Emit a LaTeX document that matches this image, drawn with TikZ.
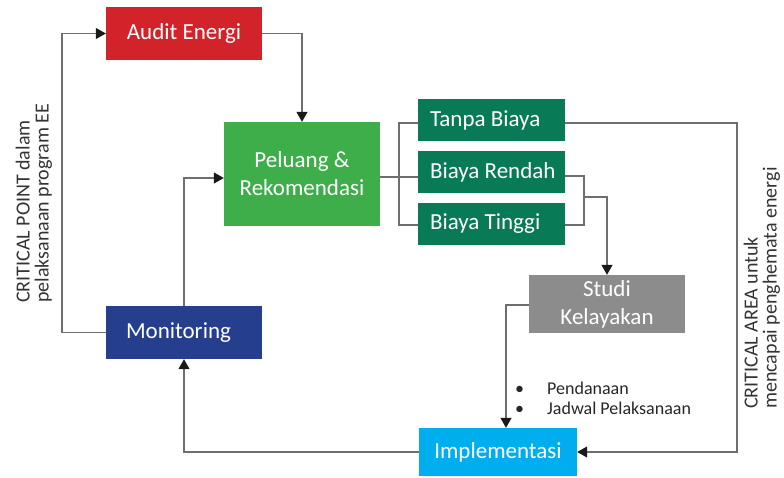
\documentclass[tikz,border=0pt]{standalone}
\usepackage{fontspec}
\setmainfont{Carlito}
\usetikzlibrary{arrows.meta}
\definecolor{cred}{HTML}{D2232A}
\definecolor{cgreen}{HTML}{3DAE49}
\definecolor{cdgreen}{HTML}{087A56}
\definecolor{cgray}{HTML}{8C8C8C}
\definecolor{cblue}{HTML}{253F8E}
\definecolor{ccyan}{HTML}{00AEEF}
\definecolor{cline}{HTML}{6E6E6E}
\tikzset{
  box/.style={rectangle, inner sep=0pt, text=white, font=\fontsize{23}{28}\selectfont, align=center},
  conn/.style={draw=cline, line width=1.1pt},
  arr/.style={conn, -{Triangle[width=11pt,length=10pt,color=black!90]}},
  side/.style={font=\fontsize{20}{19}\selectfont, text=black!80, align=left, rotate=90, anchor=west, inner sep=0pt},
}
\begin{document}
\begin{tikzpicture}[x=1pt,y=-1pt]
\useasboundingbox (0,0) rectangle (784,477);
\node[box, fill=cred, minimum width=156, minimum height=53] (aud) at (184,33.5) {Audit Energi};
\node[box, fill=cgreen, minimum width=156, minimum height=104] (pel) at (302,174) {Peluang \&\\Rekomendasi};
\node[box, fill=cdgreen, minimum width=147, minimum height=42, inner xsep=12] (tan) at (491.5,120) {\makebox[123pt][l]{Tanpa Biaya}};
\node[box, fill=cdgreen, minimum width=147, minimum height=42, inner xsep=12] (ren) at (491.5,172) {\makebox[123pt][l]{Biaya Rendah}};
\node[box, fill=cdgreen, minimum width=147, minimum height=42, inner xsep=12] (tin) at (491.5,224) {\makebox[123pt][l]{Biaya Tinggi}};
\node[box, fill=cgray, minimum width=156, minimum height=58] (stu) at (607,304) {Studi\\Kelayakan};
\node[box, fill=cblue, minimum width=156, minimum height=53, inner xsep=20] (mon) at (184,332.5) {\makebox[116pt][l]{Monitoring}};
\node[box, fill=ccyan, minimum width=158, minimum height=48] (imp) at (498,452) {Implementasi};

% connector anchor points
\coordinate (pe) at ([yshift=-3pt]pel.east);
\coordinate (pw) at ([yshift=-4pt]pel.west);
\coordinate (tw) at ([yshift=-3pt]tan.west);
\coordinate (te) at ([yshift=-3pt]tan.east);
\coordinate (re) at ([yshift=-4pt]ren.east);
\coordinate (iw) at ([yshift=-1pt]tin.west);
\coordinate (ie) at ([yshift=-1pt]tin.east);
\coordinate (sw) at ([yshift=-1pt]stu.west);
\coordinate (lx) at (62,0);
\coordinate (bx) at (399,0);
\coordinate (rx) at (584,0);
\coordinate (jn) at (584,197);
\coordinate (ex) at (737,0);
\coordinate (sx) at (506,0);

\draw[arr] (mon.west) -- (lx |- mon.west) |- (aud.west);
\draw[arr] (aud.east) -| (pel.north);
\draw[arr] (mon.north) |- (pw);
\draw[conn] (pe) -- (pe -| tan.west);
\draw[conn] (tw) -- (bx |- tw) |- (iw);
\draw[conn] (re) -- (rx |- re) |- (ie);
\draw[arr] (jn) -| (stu.north);
\draw[arr] (te) -- (ex |- te) |- (imp.east);
\draw[arr] (sw) -| (sx |- imp.north);
\draw[arr] (imp.west) -| (mon.south);

\node[side] (cp) at (34,303) {CRITICAL POINT dalam\\pelaksanaan program EE};
\node[side] (ca) at (762,409) {CRITICAL AREA untuk\\mencapai penghemata energi};
\node[font=\fontsize{18}{20}\selectfont, text=black!85, anchor=west, align=left, inner sep=0pt] (bl) at (515,398) {\makebox[32pt][l]{\textbullet}Pendanaan\\\makebox[32pt][l]{\textbullet}Jadwal Pelaksanaan};
\end{tikzpicture}
\end{document}
